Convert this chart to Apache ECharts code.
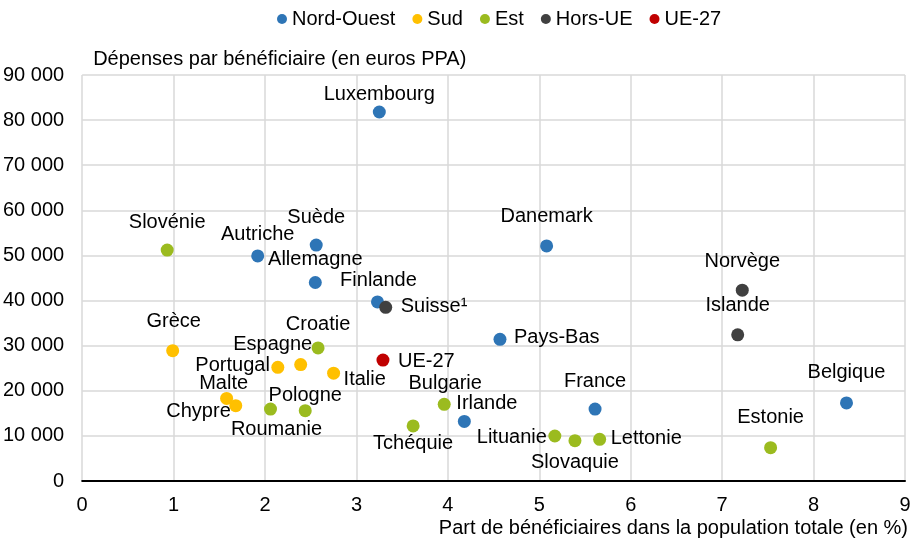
<!DOCTYPE html>
<html>
<head>
<meta charset="utf-8">
<script src="https://cdn.jsdelivr.net/npm/echarts@6/dist/echarts.min.js"></script>
<style>
  html, body { margin: 0; padding: 0; background: #fff; }
  #chart { width: 915px; height: 539px; }
</style>
</head>
<body>
<div id="chart"></div>
<script>
// Scatter: share of beneficiaries (x) vs spending per beneficiary (y), by region group.
const groups = ['Nord-Ouest', 'Sud', 'Est', 'Hors-UE', 'UE-27']
const groupColors = ['#2E75B6', '#FFC000', '#9BBB1F', '#404040', '#C00000']

const countries = [
  'Luxembourg', 'Slovénie', 'Autriche', 'Suède', 'Allemagne', 'Finlande', 'Suisse¹',
  'Danemark', 'Norvège', 'Islande', 'Grèce', 'Croatie', 'Espagne', 'Portugal',
  'Italie', 'UE-27', 'Malte', 'Chypre', 'Roumanie', 'Pologne', 'Tchéquie',
  'Pays-Bas', 'Bulgarie', 'Irlande', 'France', 'Lituanie', 'Slovaquie', 'Lettonie',
  'Belgique', 'Estonie'
]
const countryGroup = [
  'Nord-Ouest', 'Est', 'Nord-Ouest', 'Nord-Ouest', 'Nord-Ouest', 'Nord-Ouest', 'Hors-UE',
  'Nord-Ouest', 'Hors-UE', 'Hors-UE', 'Sud', 'Est', 'Sud', 'Sud',
  'Sud', 'UE-27', 'Sud', 'Sud', 'Est', 'Est', 'Est',
  'Nord-Ouest', 'Est', 'Nord-Ouest', 'Nord-Ouest', 'Est', 'Est', 'Est',
  'Nord-Ouest', 'Est'
]
// Part de bénéficiaires dans la population totale (en %)
const shareBenef = [
  3.25, 0.93, 1.92, 2.56, 2.55, 3.23, 3.32,
  5.08, 7.22, 7.17, 0.99, 2.58, 2.39, 2.14,
  2.75, 3.29, 1.58, 1.68, 2.06, 2.44, 3.62,
  4.57, 3.96, 4.18, 5.61, 5.17, 5.39, 5.66,
  8.36, 7.53
]
// Dépenses par bénéficiaire (en euros PPA)
const spendBenef = [
  81800, 51200, 49900, 52300, 44000, 39700, 38500,
  52100, 42300, 32400, 28900, 29500, 25800, 25200,
  23900, 26800, 18300, 16700, 15950, 15600, 12200,
  31400, 17000, 13200, 15950, 9970, 8930, 9240,
  17300, 7380
]

const xTicks = [0, 9, 1]
const yTicks = [0, 90000, 10000]

// label placement per country: [align, dx, dy] from the marker centre
const labelPlace = {
  'Luxembourg': ['center', 0, -18], 'Slovénie': ['center', 0, -28], 'Autriche': ['center', 0, -21],
  'Suède': ['center', 0, -28], 'Allemagne': ['center', 0, -23], 'Finlande': ['center', 1, -21],
  'Suisse¹': ['left', 15, -1], 'Danemark': ['center', 0, -29], 'Norvège': ['center', 0, -29],
  'Islande': ['center', 0, -29], 'Grèce': ['center', 1, -29], 'Croatie': ['center', 0, -23],
  'Espagne': ['center', -28, -20], 'Portugal': ['right', -8, -2], 'Italie': ['left', 10, 6],
  'UE-27': ['left', 15, 1], 'Malte': ['center', -3, -15], 'Chypre': ['right', -5, 6],
  'Roumanie': ['center', 6, 20], 'Pologne': ['center', 0, -15], 'Tchéquie': ['center', 0, 18],
  'Pays-Bas': ['left', 14, -2], 'Bulgarie': ['center', 1, -21], 'Irlande': ['left', -8, -18],
  'France': ['center', 0, -28], 'Lituanie': ['right', -8, 1], 'Slovaquie': ['center', 0, 22],
  'Lettonie': ['left', 11, -1], 'Belgique': ['center', 0, -30], 'Estonie': ['center', 0, -30]
}

const FONT = 'Liberation Sans, Arial, sans-serif'
const FS = 20

function fmtThousands(v) {
  return String(v).replace(/\B(?=(\d{3})+(?!\d))/g, ' ')
}

const series = groups.map(function (g, gi) {
  const data = []
  countries.forEach(function (c, i) {
    if (countryGroup[i] !== g) return
    const p = labelPlace[c]
    data.push({
      name: c,
      value: [shareBenef[i], spendBenef[i]],
      label: { align: p[0], offset: [p[1], p[2]] }
    })
  })
  return {
    name: g,
    type: 'scatter',
    symbol: 'circle',
    symbolSize: 13,
    itemStyle: { color: groupColors[gi], opacity: 1 },
    data: data,
    label: {
      show: true,
      position: 'inside',
      verticalAlign: 'middle',
      formatter: '{b}',
      color: '#000',
      fontFamily: FONT,
      fontSize: FS
    },
    emphasis: { disabled: true }
  }
})

const chart = echarts.init(document.getElementById('chart'), null, { renderer: 'canvas' })
chart.setOption({
  animation: false,
  color: groupColors,
  legend: {
    top: 4,
    left: 272,
    itemWidth: 10,
    itemHeight: 10,
    itemGap: 17,
    icon: 'circle',
    textStyle: { fontFamily: FONT, fontSize: FS, color: '#000' },
    data: groups
  },
  grid: { left: 82, right: 10, top: 75, bottom: 58 },
  xAxis: {
    type: 'value',
    min: xTicks[0],
    max: xTicks[1],
    interval: xTicks[2],
    name: 'Part de bénéficiaires dans la population totale (en %)',
    nameLocation: 'end',
    nameGap: 3,
    nameTextStyle: {
      fontFamily: FONT, fontSize: FS, color: '#000',
      align: 'right', verticalAlign: 'top', padding: [37, 0, 0, 0]
    },
    axisLine: { show: true, onZero: false, lineStyle: { color: '#000', width: 2 } },
    axisTick: { show: false },
    axisLabel: { margin: 14, color: '#000', fontFamily: FONT, fontSize: FS },
    splitLine: { show: true, lineStyle: { color: '#D9D9D9', width: 1.5 } }
  },
  yAxis: {
    type: 'value',
    min: yTicks[0],
    max: yTicks[1],
    interval: yTicks[2],
    name: 'Dépenses par bénéficiaire (en euros PPA)',
    nameLocation: 'end',
    nameGap: 6,
    nameTextStyle: {
      fontFamily: FONT, fontSize: FS, color: '#000',
      align: 'left', padding: [0, 0, 0, 11]
    },
    axisLine: { show: false },
    axisTick: { show: false },
    axisLabel: {
      margin: 18, color: '#000', fontFamily: FONT, fontSize: FS,
      formatter: fmtThousands
    },
    splitLine: { show: true, lineStyle: { color: '#D9D9D9', width: 1.5 } }
  },
  series: series
})
</script>
</body>
</html>
